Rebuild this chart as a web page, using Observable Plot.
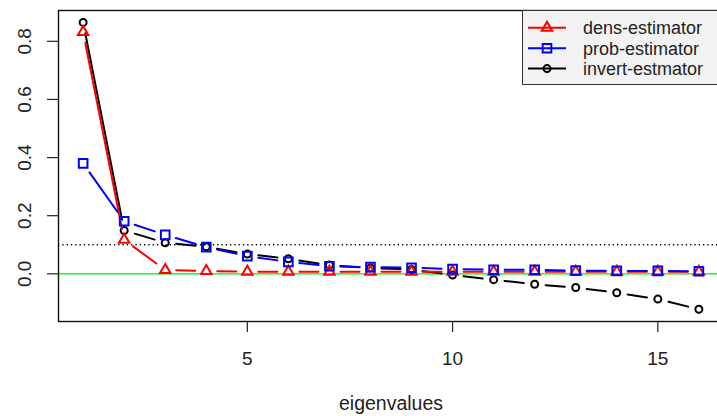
<!DOCTYPE html>
<html><head><meta charset="utf-8">
<script src="https://cdn.jsdelivr.net/npm/d3@7"></script>
<script src="https://cdn.jsdelivr.net/npm/@observablehq/plot@0.6"></script>
<style>
body{margin:0;background:#fff;}
#wrap{position:relative;width:717px;height:416px;overflow:hidden;font-family:"Liberation Sans",Arial,sans-serif;}
#legend{position:absolute;left:522px;top:10px;width:210px;height:75px;border:1.3px solid #333;background:#f2f2f2;box-sizing:border-box;}
</style></head><body><div id="wrap"><div id="plotbox"></div><div id="legend"></div></div>
<script>
const eigen = [1,2,3,4,5,6,7,8,9,10,11,12,13,14,15,16];
const dens = [0.832,0.117,0.013,0.010,0.007,0.007,0.007,0.007,0.007,0.007,0.007,0.007,0.007,0.007,0.007,0.007];
const prob = [0.380,0.181,0.134,0.092,0.061,0.041,0.026,0.023,0.021,0.016,0.014,0.014,0.011,0.010,0.010,0.009];
const invert = [0.865,0.149,0.107,0.093,0.068,0.052,0.030,0.020,0.015,-0.004,-0.020,-0.036,-0.047,-0.065,-0.087,-0.122];
const xTicks = [5,10,15];
const yTicks = [0,0.2,0.4,0.6,0.8];
const seriesNames = ["dens-estimator","prob-estimator","invert-estmator"];
const seriesColors = ["#ff0000","#0000ff","#000000"];
const seriesSymbols = ["triangle2","square2","circle"];
const xDomain = [0.4, 16.6];
const yDomain = [-0.164, 0.906];

const W = 724, H = 416, mL = 58, mR = 1, mT = 10, mB = 95;
const GAP = 11;
const kx = (W - mR - mL) / (xDomain[1] - xDomain[0]);
const ky = (H - mB - mT) / (yDomain[1] - yDomain[0]);

function segments(vals){
  const out = [];
  for (let i = 0; i < vals.length - 1; i++) {
    const dx = (eigen[i+1] - eigen[i]) * kx, dy = (vals[i+1] - vals[i]) * ky;
    const f = GAP / Math.hypot(dx, dy);
    if (f >= 0.5) continue;
    out.push({
      x1: eigen[i] + f * (eigen[i+1] - eigen[i]), y1: vals[i] + f * (vals[i+1] - vals[i]),
      x2: eigen[i+1] - f * (eigen[i+1] - eigen[i]), y2: vals[i+1] - f * (vals[i+1] - vals[i])
    });
  }
  return out;
}
function pts(vals){ return eigen.map((e,i)=>({x:e, y:vals[i]})); }

const seriesVals = [dens, prob, invert];
const radii = [5.0, 5.5, 3.5];
const order = [2, 0, 1];
const seriesMarks = [];
for (const s of order) {
  seriesMarks.push(Plot.link(segments(seriesVals[s]), {x1:"x1", y1:"y1", x2:"x2", y2:"y2", stroke: seriesColors[s], strokeWidth: 2, strokeLinecap: "round"}));
  seriesMarks.push(Plot.dot(pts(seriesVals[s]), {x:"x", y:"y", symbol: seriesSymbols[s], r: radii[s], stroke: seriesColors[s], strokeWidth: 2, fill: "none"}));
}

const plot = Plot.plot({
  width: W, height: H, marginLeft: mL, marginRight: mR, marginTop: mT, marginBottom: mB,
  style: {fontFamily: "'Liberation Sans', Arial, sans-serif", fontSize: "19px", background: "white", maxWidth: "none", color: "#222"},
  x: {domain: xDomain},
  y: {domain: yDomain},
  marks: [
    Plot.ruleY([0], {stroke: "#00ee00", strokeWidth: 1.3}),
    Plot.ruleY([0.1], {stroke: "black", strokeDasharray: "1.3,3", strokeWidth: 1.3}),
    ...seriesMarks,
    Plot.frame({stroke: "#111", strokeWidth: 1.4}),
    Plot.axisX(xTicks, {tickSize: 11, tickPadding: 18.8, label: null, fontSize: 19, strokeWidth: 1.2, fill: "#222"}),
    Plot.axisY(yTicks, {tickSize: 11, label: null, tickFormat: () => "", strokeWidth: 1.2}),
    Plot.text(yTicks, {y: d => d, text: d => d3.format(".1f")(d), frameAnchor: "left", dx: -34, rotate: -90, textAnchor: "middle", lineAnchor: "middle", fontSize: 19, fill: "#222"}),
    Plot.text(["eigenvalues"], {text: d => d, frameAnchor: "bottom", dy: 81.8, lineAnchor: "middle", textAnchor: "middle", fontSize: 19.5, fill: "#222"})
  ]
});
document.getElementById("plotbox").appendChild(plot);

// legend
const lg = d3.select("#legend").append("svg").attr("width", 210).attr("height", 75).style("display","block");
const rowY = [16.8, 37.2, 57.6];
const symR = [5.0, 5.5, 3.5];
seriesNames.forEach((name, i) => {
  const g = lg.append("g").attr("transform", `translate(0,${rowY[i]})`);
  g.append("line").attr("x1", 5).attr("x2", 43).attr("y1", 0).attr("y2", 0).attr("stroke", seriesColors[i]).attr("stroke-width", 2);
  g.append("path").attr("transform", "translate(24,0)")
    .attr("d", d3.symbol(i === 0 ? d3.symbolTriangle2 : i === 1 ? d3.symbolSquare2 : d3.symbolCircle, Math.PI * symR[i] * symR[i])())
    .attr("fill", "none").attr("stroke", seriesColors[i]).attr("stroke-width", 2);
  g.append("text").attr("x", 60).attr("y", 0).attr("dy", "0.35em").attr("font-size", 18)
    .attr("font-family", "'Liberation Sans', Arial, sans-serif").attr("fill", "#222").text(name);
});
</script></body></html>
